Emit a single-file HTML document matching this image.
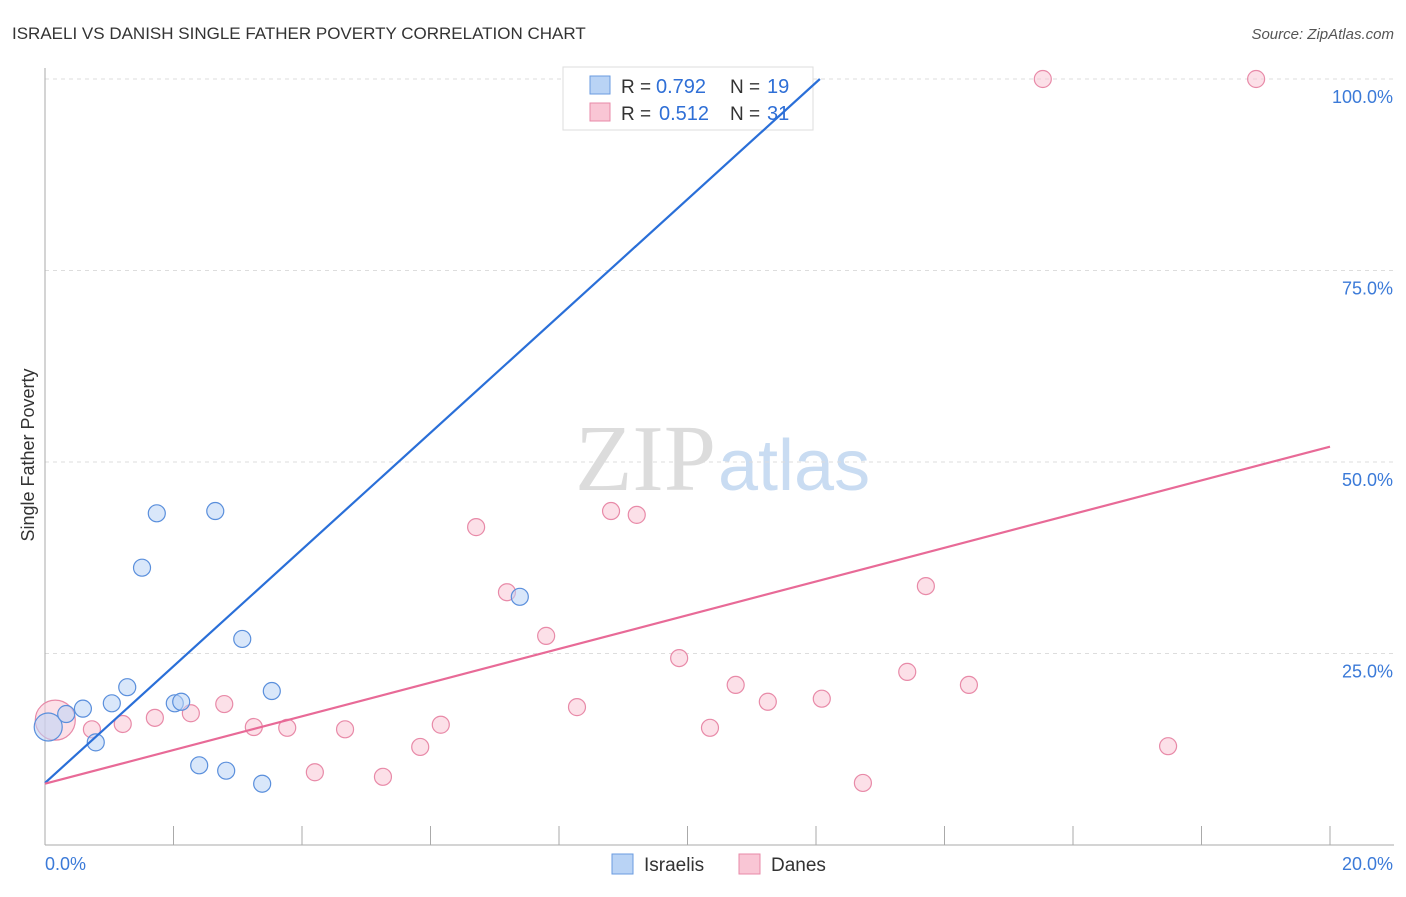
<!DOCTYPE html>
<html><head><meta charset="utf-8"><style>
body{margin:0;background:#fff;font-family:"Liberation Sans",sans-serif;}
</style></head><body>
<svg id="chart" width="1406" height="892" style="font-family:'Liberation Sans',sans-serif">
<text x="12" y="39" font-size="17" fill="#333">ISRAELI VS DANISH SINGLE FATHER POVERTY CORRELATION CHART</text>
<text x="1394" y="39" font-size="15" fill="#555" font-style="italic" text-anchor="end">Source: ZipAtlas.com</text>
<text x="716" y="490" font-size="94" fill="#dcdcdc" text-anchor="end" style="font-family:'Liberation Serif',serif">ZIP</text>
<text x="718" y="490" font-size="72" fill="#c9dcf2">atlas</text>
<text transform="translate(34,455) rotate(-90)" font-size="18" fill="#333" text-anchor="middle">Single Father Poverty</text>
<g id="grid"></g><g id="ticks"></g>
<g id="marks"></g>
<g>
<rect x="563" y="67" width="250" height="63" fill="#fff" stroke="#ddd"/>
<rect x="590" y="76" width="20" height="18" fill="#b9d3f5" stroke="#6a9be0"/>
<rect x="590" y="103" width="20" height="18" fill="#f9c6d5" stroke="#e88aa8"/>
<text x="621" y="93" font-size="19" fill="#333">R =</text>
<text x="656" y="93" font-size="20" fill="#2f6fd6">0.792</text>
<text x="730" y="93" font-size="19" fill="#333">N =</text>
<text x="767" y="93" font-size="20" fill="#2f6fd6">19</text>
<text x="621" y="120" font-size="19" fill="#333">R =</text>
<text x="659" y="120" font-size="20" fill="#2f6fd6">0.512</text>
<text x="730" y="120" font-size="19" fill="#333">N =</text>
<text x="767" y="120" font-size="20" fill="#2f6fd6">31</text>
</g>
<g id="lines"></g>
<g>
<rect x="612" y="854" width="21" height="20" fill="#b9d3f5" stroke="#6a9be0"/>
<text x="644" y="871" font-size="19" fill="#333">Israelis</text>
<rect x="739" y="854" width="21" height="20" fill="#f9c6d5" stroke="#e88aa8"/>
<text x="771" y="871" font-size="19" fill="#333">Danes</text>
</g>
</svg>
<script>
const israelisX=[0.05,0.33,0.59,0.79,1.04,1.28,1.51,1.74,2.02,2.12,2.40,2.65,2.82,3.07,3.38,3.53,7.39,8.26,10.19];
const israelisY=[15.4,17.1,17.8,13.4,18.5,20.6,36.2,43.3,18.5,18.7,10.4,43.6,9.7,26.9,8.0,20.1,32.4,100,100];
const danesX=[0.16,0.73,1.21,1.71,2.27,2.79,3.25,3.77,4.20,4.67,5.26,5.84,6.16,6.71,7.19,7.80,8.28,8.81,9.21,9.87,10.35,10.75,11.25,12.09,12.73,13.42,13.71,14.38,15.53,17.48,18.85];
const danesY=[16.3,15.1,15.8,16.6,17.2,18.4,15.4,15.3,9.5,15.1,8.9,12.8,15.7,41.5,33.0,27.3,18.0,43.6,43.1,24.4,15.3,20.9,18.7,19.1,8.1,22.6,33.8,20.9,100,12.9,100];
const yTicks=[25,50,75,100];
const yTickLabels=["25.0%","50.0%","75.0%","100.0%"];
const israelisTrend=[8.1,7.62];
const danesTrend=[8.0,2.2];
const NS="http://www.w3.org/2000/svg";
const sx=v=>45+v/20*1285, sy=v=>845-v/100*766;
function mk(p,t,a){const e=document.createElementNS(NS,t);for(const k in a)e.setAttribute(k,a[k]);document.getElementById(p).appendChild(e);return e;}
yTicks.forEach((t,i)=>{
 const l=mk('grid','line',{x1:45,x2:1394,y1:sy(t),y2:sy(t),stroke:'#ddd','stroke-dasharray':'4,4'});
 
 
 const tx=mk('grid','text',{x:1393,y:sy(t)+24,'font-size':18,fill:'#3b7ad8','text-anchor':'end'});tx.textContent=yTickLabels[i];
 
 
});
const ax=mk('ticks','line',{x1:45,x2:45,y1:68,y2:845,stroke:'#aaa'});


const bx=mk('ticks','line',{x1:45,x2:1394,y1:845,y2:845,stroke:'#aaa'});


for(let i=1;i<=10;i++){const t=mk('ticks','line',{x1:sx(i*2),x2:sx(i*2),y1:826,y2:845,stroke:'#aaa'});
 
 }
[["0.0%",45,'start'],["20.0%",1393,'end']].forEach(d=>{const t=mk('ticks','text',{x:d[1],y:870,'font-size':18,fill:'#3b7ad8','text-anchor':d[2]});t.textContent=d[0];
 
 });
function dots(X,Y,fill,stroke,name,bigR){X.forEach((x,i)=>{const c=mk('marks','circle',{cx:sx(x),cy:sy(Y[i]),r:i===0?bigR:8.5,fill:fill,'fill-opacity':0.55,stroke:stroke,'stroke-width':1.2});
 
 });}
dots(danesX,danesY,'#f9c6d5','#e88aa8','danes-point',20);
dots(israelisX,israelisY,'#b9d3f5','#5a8fdc','israelis-point',14);
function trend(p,col,name,xmax){const l=mk('lines','line',{x1:sx(0),y1:sy(p[0]),x2:sx(xmax),y2:sy(p[0]+p[1]*xmax),stroke:col,'stroke-width':2.2});
 
 }
trend(israelisTrend,'#2a6fd8','israelis-trendline',(100-israelisTrend[0])/israelisTrend[1]);
trend(danesTrend,'#e86a97','danes-trendline',20);
</script>
</body></html>
